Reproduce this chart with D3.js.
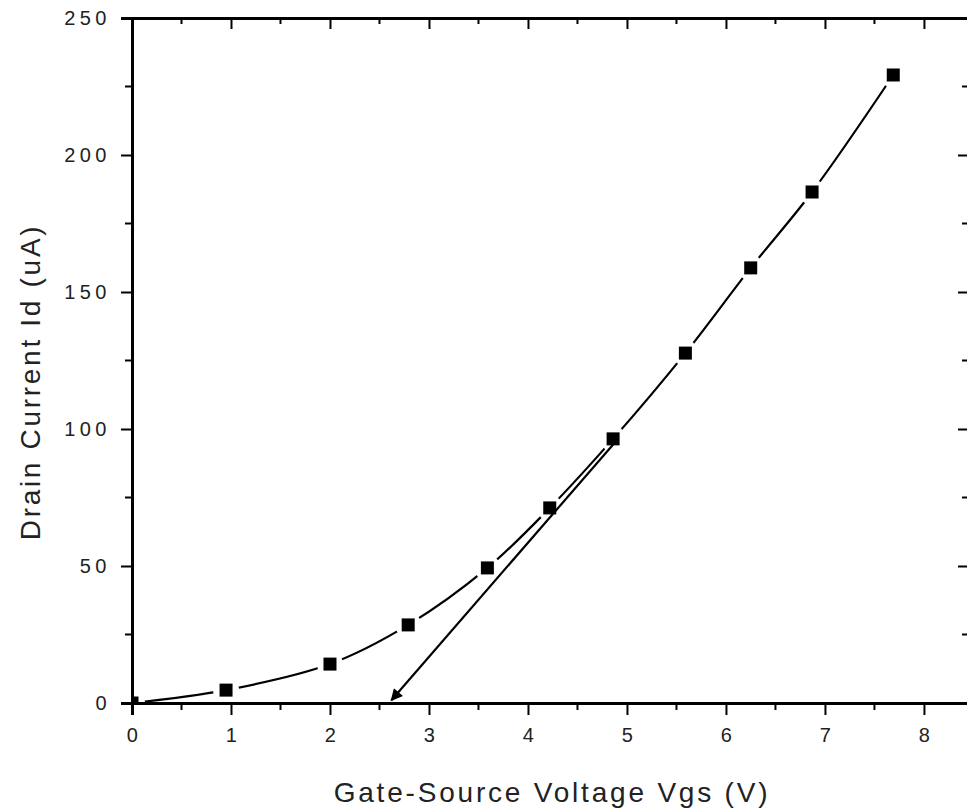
<!DOCTYPE html>
<html><head><meta charset="utf-8">
<script src="https://cdn.jsdelivr.net/npm/d3@7"></script>
<style>body{margin:0;background:#fff}svg{display:block}</style>
</head><body>
<script>
const vgs = [0, 0.95, 2.0, 2.79, 3.59, 4.22, 4.86, 5.59, 6.25, 6.87, 7.69];
const id  = [0, 4.7, 14.2, 28.5, 49.3, 71.2, 96.4, 127.7, 158.8, 186.5, 229.2];
const arrowFrom = [4.9, 96];
const arrowTo = [2.62, 1];
const xTicks = [0,1,2,3,4,5,6,7,8];
const yTicks = [0,50,100,150,200,250];
const xTitle = "Gate-Source Voltage Vgs (V)";
const yTitle = "Drain Current Id (uA)";

const W = 967, H = 812;
const L = 132, R = 968, T = 18, B = 703;
const x = d3.scaleLinear().domain([0, 8.445]).range([L, R]);
const y = d3.scaleLinear().domain([0, 250]).range([B, T]);

const svg = d3.select("body").append("svg").attr("width", W).attr("height", H);
const defs = svg.append("defs");
const mask = defs.append("mask").attr("id","gap").attr("maskUnits","userSpaceOnUse")
  .attr("x",0).attr("y",0).attr("width",W).attr("height",H);
mask.append("rect").attr("width",W).attr("height",H).attr("fill","#fff");
mask.selectAll("circle").data(vgs).enter().append("circle")
  .attr("cx",(d)=>x(d)).attr("cy",(d,i)=>y(id[i])).attr("r",13).attr("fill","#000");
defs.append("clipPath").attr("id","plot").append("rect")
  .attr("x",L).attr("y",T).attr("width",R-L).attr("height",B-T);
defs.append("marker").attr("id","ah").attr("viewBox","0 0 10 10").attr("refX",9).attr("refY",5)
  .attr("markerWidth",14).attr("markerHeight",12).attr("markerUnits","userSpaceOnUse").attr("orient","auto")
  .append("path").attr("d","M0,0 L10,5 L0,10 z").attr("fill","#000");

const font = "Arial, 'Liberation Sans', sans-serif";
const minorX = d3.range(0, 8.5, 0.5).filter(v => Math.abs(v - Math.round(v)) > 0.01);
const minorY = d3.range(25, 250, 50);

// data layer (clipped to plot area)
const gd = svg.append("g").attr("clip-path","url(#plot)");
const pts = vgs.map((v,i)=>[x(v), y(id[i])]);
gd.append("path").attr("d", d3.line().curve(d3.curveCatmullRom.alpha(0.5))(pts))
  .attr("fill","none").attr("stroke","#000").attr("stroke-width",2.2).attr("mask","url(#gap)");
gd.append("line").attr("x1",x(arrowFrom[0])).attr("y1",y(arrowFrom[1]))
  .attr("x2",x(arrowTo[0])).attr("y2",y(arrowTo[1]))
  .attr("stroke","#000").attr("stroke-width",2.2).attr("marker-end","url(#ah)");
const s = 13;
gd.selectAll(".sym").data(vgs).enter().append("rect")
  .attr("x",(d)=>x(d)-s/2).attr("y",(d,i)=>y(id[i])-s/2).attr("width",s).attr("height",s).attr("fill","#000");

// bottom axis
const gB = svg.append("g").attr("transform",`translate(0,${B})`)
  .call(d3.axisBottom(x).tickValues(xTicks).tickSize(12).tickPadding(13).tickFormat(d3.format("d")));
gB.selectAll(".minor").data(minorX).enter().append("line").attr("x1",x).attr("x2",x).attr("y1",0).attr("y2",7).attr("stroke","#000").attr("stroke-width",2);
// left axis
const gL = svg.append("g").attr("transform",`translate(${L},0)`)
  .call(d3.axisLeft(y).tickValues(yTicks).tickSize(11).tickPadding(10).tickFormat(d3.format("d")));
gL.selectAll(".minor").data(minorY).enter().append("line").attr("y1",y).attr("y2",y).attr("x1",0).attr("x2",-7).attr("stroke","#000").attr("stroke-width",2);
// top axis (inward)
const gT = svg.append("g").attr("transform",`translate(0,${T})`)
  .call(d3.axisTop(x).tickValues(xTicks).tickSize(-11).tickFormat(""));
gT.selectAll(".minor").data(minorX).enter().append("line").attr("x1",x).attr("x2",x).attr("y1",0).attr("y2",6).attr("stroke","#000").attr("stroke-width",2);
// right axis (inward)
const gR = svg.append("g").attr("transform",`translate(${R},0)`)
  .call(d3.axisRight(y).tickValues(yTicks).tickSize(-10).tickFormat(""));
gR.selectAll(".minor").data(minorY).enter().append("line").attr("y1",y).attr("y2",y).attr("x1",0).attr("x2",-6).attr("stroke","#000").attr("stroke-width",2);

[gB,gL,gT,gR].forEach(g=>{
  g.select(".domain").attr("stroke","#000").attr("stroke-width",3);
  g.selectAll(".tick line").attr("stroke","#000").attr("stroke-width",2);
  g.selectAll("text").attr("font-family",font).attr("font-size",20).attr("fill","#222").style("letter-spacing","4.5px");
});
gB.selectAll(".tick text").attr("dx","2px");

// titles
svg.append("text").attr("x",552).attr("y",802).attr("text-anchor","middle")
  .attr("font-family",font).attr("font-size",28).attr("fill","#222").style("letter-spacing","2.8px").text(xTitle);
svg.append("text").attr("transform","translate(40,382) rotate(-90)").attr("text-anchor","middle")
  .attr("font-family",font).attr("font-size",28).attr("fill","#222").style("letter-spacing","2.7px").text(yTitle);
</script>
</body></html>
